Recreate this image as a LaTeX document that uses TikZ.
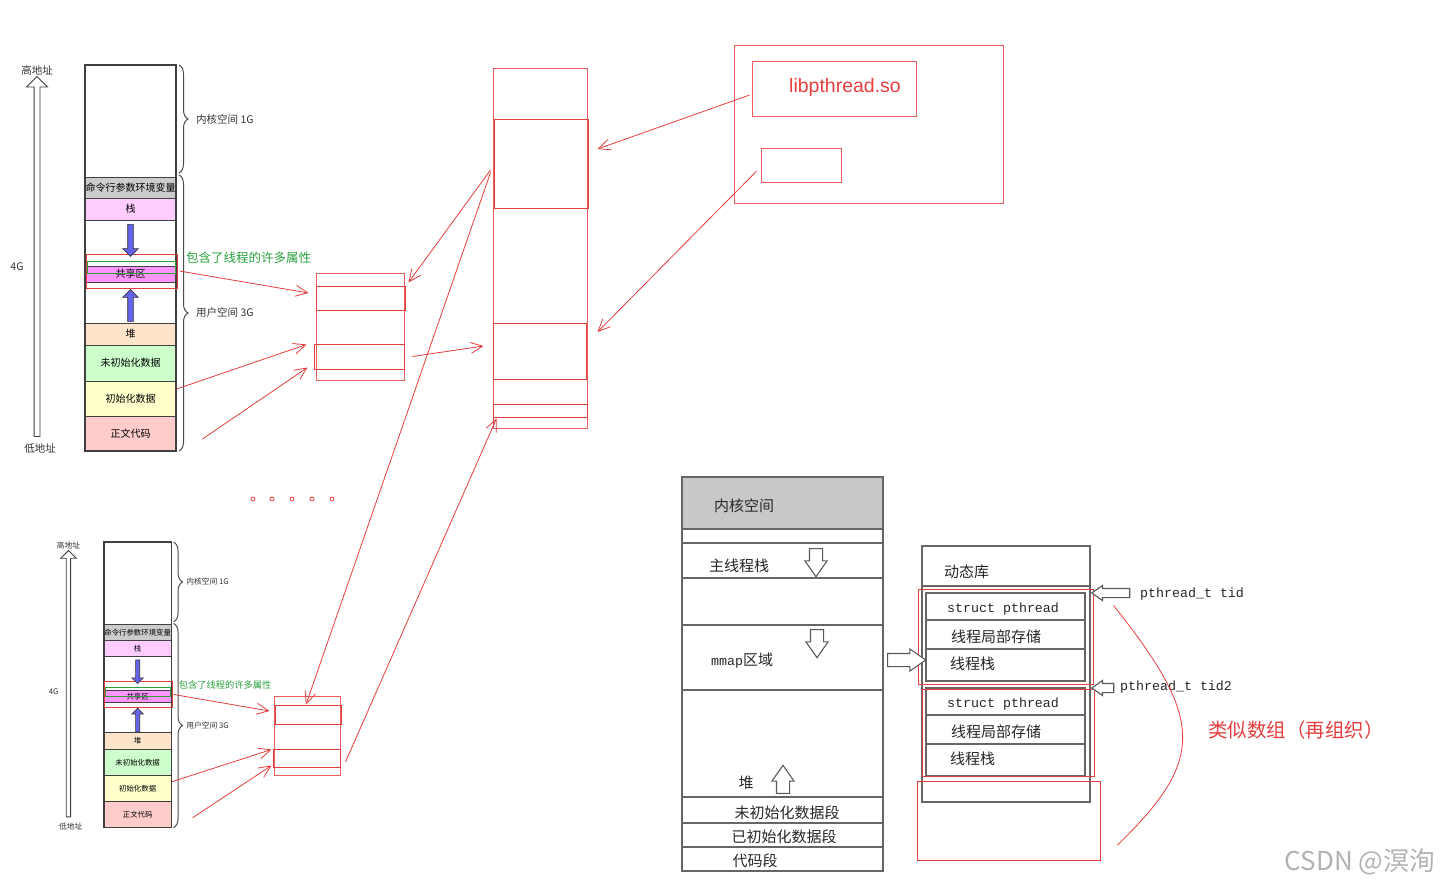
\documentclass[tikz,border=0pt]{standalone}
\usepackage{fontspec}
\setmainfont{Noto Sans CJK SC}
\newfontfamily\latinfont{Liberation Sans}
\newfontfamily\monofont{Liberation Mono}
\usepackage{tikz}
\usetikzlibrary{arrows.meta,decorations.pathreplacing,shapes.arrows}
\definecolor{myred}{RGB}{230,62,62}
\definecolor{mygreen}{RGB}{40,160,60}
\definecolor{arrowblue}{RGB}{100,100,235}
\definecolor{cmdgray}{RGB}{204,204,204}
\definecolor{stkpink}{RGB}{255,204,255}
\definecolor{shrpink}{RGB}{255,150,255}
\definecolor{heapc}{RGB}{255,228,204}
\definecolor{bssc}{RGB}{204,255,204}
\definecolor{datac}{RGB}{255,255,204}
\definecolor{textc}{RGB}{255,204,204}
\definecolor{hdrgray}{RGB}{200,200,200}
\tikzset{
  seg/.style={draw=black!75, line width=0.9pt, minimum width=91pt, inner sep=0pt, font=\fontsize{10}{10}\selectfont},
  lab/.style={inner sep=0pt, text=black!80, font=\fontsize{10.5}{10.5}\selectfont},
  brc/.style={draw=black!70, line width=1pt, decorate, decoration={brace, amplitude=9pt}},
  bluearr/.style={single arrow, draw=black!80, fill=arrowblue, line width=0.6pt, inner sep=2.5pt, single arrow head extend=5pt, minimum width=0pt},
  addrarr/.style={single arrow, draw=black!75, fill=white, line width=0.9pt, inner sep=2.5pt, single arrow head extend=7.5pt, minimum width=0pt},
  rbox/.style={draw=myred, line width=1pt, inner sep=0pt},
  rthin/.style={draw=myred!85, line width=0.7pt, inner sep=0pt},
  rarrow/.style={draw=myred, line width=0.8pt, -{Straight Barb[length=12pt,width=11pt]}},
  sketch/.style={draw=black!60, line width=1.3pt},
  skt/.style={inner sep=0pt, text=black!85, font=\fontsize{15}{15}\selectfont},
  mono/.style={inner sep=0pt, text=black!85, font=\monofont\fontsize{13.3}{13.3}\selectfont},
  harrow/.style={single arrow, draw=black!65, fill=white, line width=1.1pt, inner sep=6pt, single arrow head extend=4.5pt, single arrow tip angle=70, minimum width=0pt}
}
\newcommand{\memcol}[1]{
  \node[seg, minimum height=112pt] (#1-kern) at (45.5,56) {};
  \node[seg, fill=cmdgray, minimum height=21pt] (#1-cmd) at (45.5,122.5) {命令行参数环境变量};
  \node[seg, fill=stkpink, minimum height=22pt] (#1-stk) at (45.5,144) {栈};
  \node[seg, fill=shrpink, minimum height=16pt] (#1-shr) at (45.5,209) {共享区};
  \node[seg, fill=heapc, minimum height=22pt] (#1-heap) at (45.5,269) {堆};
  \node[seg, fill=bssc, minimum height=36pt] (#1-bss) at (45.5,298) {未初始化数据};
  \node[seg, fill=datac, minimum height=35pt] (#1-data) at (45.5,333.5) {初始化数据};
  \node[seg, fill=textc, minimum height=35pt] (#1-text) at (45.5,368.5) {正文代码};
  \draw[black!75, line width=1.2pt] (0,0) rectangle (91,386);
  \draw[mygreen, line width=0.8pt] (2,196) rectangle (90,208);
  \node[rbox, minimum width=91pt, minimum height=34pt] (#1-shrbox) at (46.5,206) {};
  \node[bluearr, rotate=-90, minimum height=32pt] (#1-down) at (45.5,174) {};
  \node[bluearr, rotate=90, minimum height=32pt] (#1-up) at (45.5,242) {};
  \draw[brc] (94,0) -- (94,108);
  \draw[brc] (94,110) -- (94,386);
  \node[lab, anchor=west] (#1-klab) at (111,54) {内核空间 1G};
  \node[lab, anchor=west] (#1-ulab) at (111,248) {用户空间 3G};
  \node[addrarr, rotate=90, minimum height=360pt] (#1-addr) at (-48,193) {};
  \node[lab] (#1-hi) at (-48,5) {高地址};
  \node[lab] (#1-lo) at (-45,384) {低地址};
  \node[lab] (#1-4g) at (-68,202) {4G};
  \node[inner sep=0pt, anchor=west, text=mygreen, font=\fontsize{12.5}{12.5}\selectfont] (#1-attr) at (101,193) {包含了线程的许多属性};
}
\begin{document}
\begin{tikzpicture}[x=1pt,y=-1pt]
\useasboundingbox (0,0) rectangle (1440,889);
\begin{scope}[shift={(85,65)}]
\memcol{t}
\end{scope}
\begin{scope}[shift={(104,542)}, scale=0.74, transform shape]
\memcol{b}
\end{scope}

\node[rthin, minimum width=88pt, minimum height=107pt] (tbox) at (360,326.5) {};
\node[rbox, minimum width=89pt, minimum height=24pt] (tb1) at (360.5,298) {};
\node[rbox, minimum width=90pt, minimum height=25pt] (tb2) at (359,356.5) {};
\node[rthin, minimum width=66pt, minimum height=79pt] (bbox) at (307,735.5) {};
\node[rbox, minimum width=66pt, minimum height=19pt] (bb1) at (308,714.5) {};
\node[rbox, minimum width=67pt, minimum height=18pt] (bb2) at (306.5,758) {};
\node[rthin, minimum width=94pt, minimum height=360pt] (lbox) at (540,248) {};
\node[rbox, minimum width=94pt, minimum height=89pt] (lA) at (541,163.5) {};
\node[rbox, minimum width=93pt, minimum height=56pt] (lB) at (539.5,351) {};
\node[rbox, minimum width=94pt, minimum height=13pt] (lC) at (540,410.5) {};
\node[rthin, minimum width=269pt, minimum height=158pt] (libbox) at (868.5,124) {};
\node[rthin, minimum width=164pt, minimum height=55pt] (libso) at (834,88.5) {};
\node[inner sep=0pt, text=myred, font=\latinfont\fontsize{19.5}{19.5}\selectfont] (libtxt) at (845,87) {libpthread.so};
\node[rthin, minimum width=80pt, minimum height=34pt] (libsm) at (801,165) {};

\foreach \x in {253,272,292,312,332}
  \draw[myred, line width=0.8pt] (\x,499) circle (2);

\draw[rarrow] ([xshift=-2pt,yshift=-6.5pt]libso.west) -- ([xshift=9pt,yshift=14.5pt]lA.east);
\draw[rarrow] ([xshift=-4pt,yshift=-6pt]libsm.west) -- ([xshift=11pt,yshift=19pt]lB.east);
\draw[rarrow] ([xshift=-3pt,yshift=-6.5pt]lA.west) -- ([xshift=3pt,yshift=3pt]tb1.north east);
\draw[rarrow] ([xshift=-3pt,yshift=-9pt]lA.west) -- ([xshift=-2pt]bb1.north);
\draw[rarrow] ([xshift=8pt]tb2.east) -- ([xshift=-9pt,yshift=5pt]lB.west);
\draw[rarrow] ([xshift=5pt,yshift=-4pt]bb2.east) -- ([xshift=4pt,yshift=-1pt]lC.south west);
\draw[rarrow] ([xshift=2pt]t-shrbox.east) -- ([xshift=-7pt,yshift=5pt]tb1.west);
\draw[rarrow] ([yshift=9.5pt]t-data.east) -- ([xshift=-7pt,yshift=-1pt]tb2.north west);
\draw[rarrow] ([xshift=26pt,yshift=-5.5pt]t-text.east) -- ([xshift=-6pt,yshift=2pt]tb2.south west);
\draw[rarrow] ([xshift=1pt]b-shrbox.east) -- ([xshift=-5pt,yshift=3.5pt]bb1.west);
\draw[rarrow] ([yshift=7pt]b-data.east) -- ([xshift=-1pt,yshift=-1pt]bb2.north west);
\draw[rarrow] ([xshift=21pt,yshift=-3pt]b-text.east) -- ([xshift=-1pt,yshift=2pt]bb2.south west);

\fill[hdrgray] (683,478) rectangle (882,528);
\draw[sketch] (682,477) rectangle (883,871);
\foreach \y in {529,543,578,625,690,797,823,847}
  \draw[sketch] (682,\y) -- (883,\y);
\node[skt, anchor=west] (kname) at (714,506) {内核空间};
\node[skt, anchor=west] (mainstk) at (709,566) {主线程栈};
\node[skt, anchor=west] (mmap) at (711,661) {{\monofont\fontsize{13.3}{13.3}\selectfont mmap}区域};
\node[skt] (heap) at (746,783) {堆};
\node[skt] (bss) at (787,813) {未初始化数据段};
\node[skt] (data) at (784,837) {已初始化数据段};
\node[skt] (code) at (755,861) {代码段};
\node[harrow, rotate=-90, minimum height=28pt] (stkdown) at (816,558) {};
\node[harrow, rotate=-90, minimum height=28pt] (mmapdown) at (817,639) {};
\node[harrow, rotate=90, minimum height=28pt] (heapup) at (783,784) {};

\draw[sketch] (922,546) rectangle (1090,802);
\draw[sketch] (922,586) -- (1090,586);
\node[skt, anchor=west] (dynlib) at (944,572) {动态库};
\foreach \t/\n in {593/1,688/2}{
  \draw[sketch] (926,\t) rectangle (1085,\t+88);
  \draw[sketch] (926,\t+27) -- (1085,\t+27);
  \draw[sketch] (926,\t+56) -- (1085,\t+56);
  \node[mono, anchor=west] (sp\n) at (947,\t+16) {struct pthread};
  \node[skt, anchor=west] (tls\n) at (951,\t+44) {线程局部存储};
  \node[skt, anchor=west] (tstk\n) at (950,\t+71) {线程栈};
}
\node[rbox, minimum width=175pt, minimum height=95pt] (thr1) at (1005.5,636.5) {};
\node[rbox, minimum width=172pt, minimum height=87pt] (thr2) at (1008,732.5) {};
\node[rbox, minimum width=183pt, minimum height=79pt] (thr3) at (1008.5,820.5) {};
\node[harrow, minimum height=38pt] (totls) at (902,660) {};
\node[harrow, rotate=180, inner sep=4pt, single arrow head extend=3pt, minimum height=38pt] (tidarr) at (1114,593) {};
\node[harrow, rotate=180, inner sep=4pt, single arrow head extend=3pt, minimum height=22pt] (tid2arr) at (1106,688) {};
\node[mono, anchor=west] (tid) at (1140,594) {pthread\_t tid};
\node[mono, anchor=west] (tid2) at (1120,687) {pthread\_t tid2};
\draw[myred, line width=0.8pt] ([xshift=20pt,yshift=-17pt]thr1.north east) .. controls (1205,720) and (1205,760) .. ([xshift=17pt,yshift=-24.5pt]thr3.east);
\node[inner sep=0pt, text=myred, font=\fontsize{19.5}{19.5}\selectfont] (arr) at (1296,730) {类似数组（再组织）};
\node[inner sep=0pt, text=black!30, font=\fontsize{26}{26}\selectfont] (mark) at (1360,862) {CSDN @溟洵};
\end{tikzpicture}
\end{document}
